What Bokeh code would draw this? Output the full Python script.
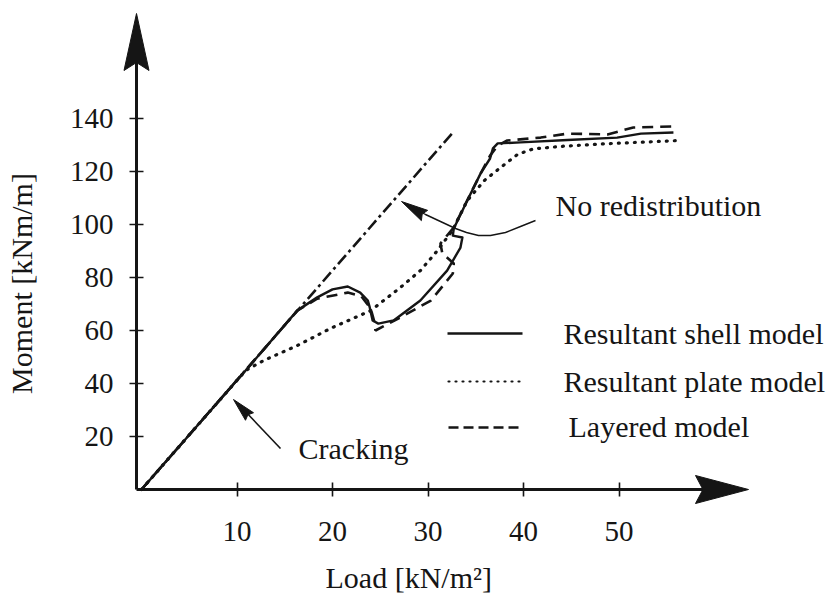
import math
from bokeh.plotting import figure
from bokeh.models import FixedTicker, Label
from bokeh.embed import file_html
from bokeh.resources import INLINE

# ---------------- data ----------------
load_shell = [0.0, 10.9, 16.3, 18.4, 20.0, 21.6, 22.9, 23.7, 23.9, 24.2, 24.8, 26.4, 29.2,
              32.0, 33.4, 33.6, 32.6, 32.7, 34.1, 35.5, 36.5, 36.8, 37.3, 39.7, 44.6, 49.8,
              52.3, 55.7]
moment_shell = [0.0, 44.9, 67.5, 72.5, 75.5, 76.6, 74.3, 71.3, 68.7, 63.8, 62.6, 63.8, 71.3,
                82.6, 91.3, 95.1, 95.8, 98.5, 109.0, 119.2, 124.9, 128.7, 130.6, 131.0, 131.9,
                132.8, 134.3, 134.7]

load_plate = [0.0, 10.9, 12.8, 16.3, 19.8, 24.0, 27.1, 29.2, 31.0, 32.6, 34.1, 35.9, 37.6,
              39.4, 41.0, 44.0, 48.2, 52.0, 56.4]
moment_plate = [0.0, 44.9, 48.7, 54.3, 60.8, 67.5, 76.2, 82.6, 90.2, 98.0, 109.0, 116.6, 121.5,
                126.5, 128.5, 129.5, 130.4, 131.0, 131.7]

load_layer = [0.0, 10.9, 16.3, 18.4, 21.6, 23.0, 24.0, 24.4, 24.5, 27.1, 30.3, 32.6, 32.7,
              31.5, 31.3, 32.7, 34.1, 35.5, 36.5, 37.3, 38.3, 41.8, 44.6, 48.8, 51.5, 55.7]
moment_layer = [0.0, 44.9, 67.5, 72.0, 74.3, 73.0, 68.3, 63.0, 60.0, 64.9, 71.3, 81.5, 85.3,
                89.1, 92.8, 98.9, 109.0, 119.2, 126.0, 129.8, 131.7, 132.8, 134.3, 134.0,
                136.6, 137.0]

load_noredist = [0.0, 32.6]
moment_noredist = [0.0, 134.7]

x_ticks = [10, 20, 30, 40, 50]
y_ticks = [20, 40, 60, 80, 100, 120, 140]

series_names = ["Resultant shell model", "Resultant plate model", "Layered model"]

# ---------------- layout helpers (pixel placement of decorations) ----------------
W, H = 832, 594
X0PX, XS = 141.0, 9.55     # px of load 0, px per kN/m2
Y0PX, YS = 489.0, 2.65     # px of moment 0, px per kNm/m


def dx(px):
    return (px - X0PX) / XS


def dy(py):
    return (Y0PX - py) / YS


INK = "#151515"
FONT = "Liberation Serif"

p = figure(width=W, height=H, x_range=(dx(0), dx(W)), y_range=(dy(H), dy(0)),
           output_backend="svg", toolbar_location=None, min_border=0,
           min_border_left=0, min_border_right=0, min_border_top=0, min_border_bottom=0)
p.outline_line_color = None
p.grid.visible = False
p.background_fill_color = "white"
p.border_fill_color = "white"

AXIS_X_PX = 136.0
p.xaxis.fixed_location = 0
p.yaxis.fixed_location = dx(AXIS_X_PX)
p.xaxis.ticker = FixedTicker(ticks=x_ticks)
p.yaxis.ticker = FixedTicker(ticks=y_ticks)
for ax in (p.xaxis, p.yaxis):
    ax.axis_line_color = None
    ax.major_tick_in = 7
    ax.major_tick_out = 7
    ax.major_tick_line_width = 1.6
    ax.major_tick_line_color = INK
    ax.minor_tick_line_color = None
    ax.major_label_text_font = FONT
    ax.major_label_text_font_size = "29px"
    ax.major_label_text_color = INK
p.yaxis.major_label_standoff = 16
p.xaxis.major_label_standoff = 25

# own axis lines with arrowheads
p.line([dx(AXIS_X_PX), dx(AXIS_X_PX)], [dy(Y0PX), dy(40)], line_width=3, color=INK)
p.line([dx(AXIS_X_PX), dx(725)], [0, 0], line_width=3, color=INK)


def head(tip, back, half_w, notch):
    tx, ty = tip
    bx, by = back
    vx, vy = bx - tx, by - ty
    L = math.hypot(vx, vy)
    ux, uy = vx / L, vy / L
    nx, ny = -uy, ux
    pts = [(tx, ty),
           (bx + nx * half_w, by + ny * half_w),
           (tx + ux * L * notch, ty + uy * L * notch),
           (bx - nx * half_w, by - ny * half_w)]
    return [dx(a) for a, _ in pts], [dy(b) for _, b in pts]


for tip, back, hw, nt in [((AXIS_X_PX, 13), (AXIS_X_PX, 70), 12.5, 0.86),
                          ((748, Y0PX), (695, Y0PX), 14.0, 0.86),
                          ((233, 399), (249, 416), 5.5, 0.9),
                          ((401, 201), (424, 215), 6.0, 0.9)]:
    hx, hy = head(tip, back, hw, nt)
    p.patch(hx, hy, color=INK, line_width=1)

# curves
p.line(load_noredist, moment_noredist, line_width=2.6, color=INK, line_dash="12 4 3 4")
p.line(load_plate, moment_plate, line_width=3.2, color=INK, line_dash="1 7", line_cap="round")
p.line(load_layer, moment_layer, line_width=2.6, color=INK, line_dash="11 7")
p.line(load_shell, moment_shell, line_width=2.4, color=INK, line_join="round")

# pointer lines
crack_px = [(280, 448), (243, 409)]
p.line([dx(a) for a, _ in crack_px], [dy(b) for _, b in crack_px], line_width=1.6, color=INK)
nored_px = [(535, 220), (520, 226), (505, 232), (490, 235), (478, 235), (466, 232), (455, 228),
            (440, 221), (425, 214), (412, 207)]
p.line([dx(a) for a, _ in nored_px], [dy(b) for _, b in nored_px], line_width=1.4, color=INK)

# legend samples
p.line([dx(447), dx(522)], [dy(333)] * 2, line_width=2.4, color=INK)
p.line([dx(448), dx(522)], [dy(381)] * 2, line_width=2.2, color=INK, line_dash="1 6",
       line_cap="round")
p.line([dx(448), dx(518)], [dy(427)] * 2, line_width=2.4, color=INK, line_dash="10 5")

OFF = 10  # Label draws its alphabetic baseline about this many px below the anchor


def text(px, py, s, align="left", angle=0.0, size="30px", baseline="alphabetic"):
    if angle:
        px = px - OFF
    else:
        py = py - OFF
    p.add_layout(Label(x=dx(px), y=dy(py), text=s, text_font=FONT, text_font_size=size,
                       text_color=INK, text_align=align, text_baseline=baseline, angle=angle))


text(563, 343, series_names[0])
text(563, 391, series_names[1])
text(568, 436, series_names[2])
text(555, 215, "No redistribution")
text(298, 458, "Cracking")
text(325, 587, "Load [kN/m\u00b2]")
text(31, 283, "Moment [kNm/m]", align="center", angle=math.pi / 2)

open("out.html", "w").write(file_html(p, INLINE))
